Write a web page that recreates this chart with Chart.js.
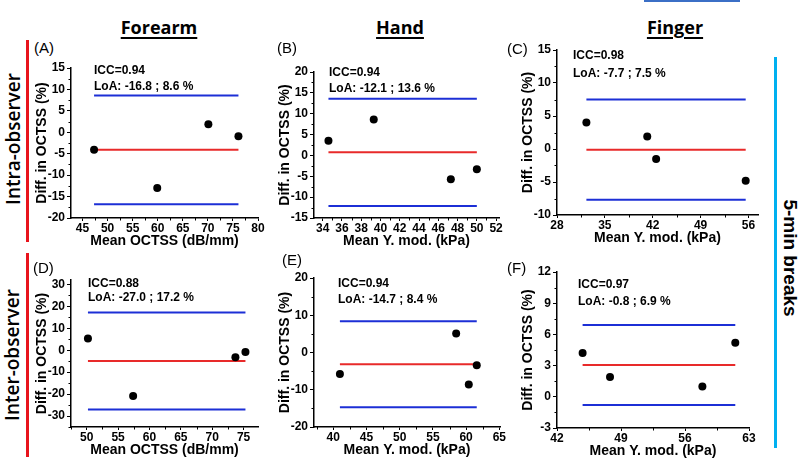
<!DOCTYPE html>
<html>
<head>
<meta charset="utf-8">
<script src="https://cdn.jsdelivr.net/npm/chart.js@4"></script>
<style>
  body { margin: 0; width: 800px; height: 463px; background: #fff; position: relative; overflow: hidden;
         font-family: "Liberation Sans", Arial, sans-serif; }
  canvas { position: absolute; }
  .t { position: absolute; white-space: nowrap; color: #000; line-height: 1; }
  .col { font-family: "Open Sans", sans-serif; font-weight: 700; font-size: 18px;
         text-decoration: underline; text-decoration-thickness: 2px; text-underline-offset: 3px;
         transform: translate(-50%, -50%); }
  .row { font-family: "Open Sans", sans-serif; font-weight: 600; font-size: 19px;
         transform: translate(-50%, -50%) rotate(-90deg); }
  .brk { font-weight: 700; font-size: 19px; transform: translate(-50%, -50%) rotate(90deg); }
  .lab { font-size: 15px; transform: translateY(-50%); }
  .icc { font-size: 12px; font-weight: 700; transform: translateY(-50%); }
  .bar { position: absolute; }
</style>
</head>
<body>

<div class="bar" style="left:644px;top:0;width:96px;height:2px;background:#3b6fc6"></div>
<div class="bar" style="left:26px;top:40px;width:3px;height:202px;background:#e8141c"></div>
<div class="bar" style="left:26px;top:253px;width:3px;height:204px;background:#e8141c"></div>
<div class="bar" style="left:774px;top:57px;width:3px;height:391px;background:#00b0f0"></div>

<div class="t col" style="left:159px;top:27px">Forearm</div>
<div class="t col" style="left:400px;top:27px">Hand</div>
<div class="t col" style="left:675px;top:27px">Finger</div>
<div class="t row" style="left:13px;top:139px">Intra-observer</div>
<div class="t row" style="left:12px;top:355px">Inter-observer</div>
<div class="t brk" style="left:790px;top:258px">5-min breaks</div>

<div id="panels"></div>

<script>
// ---- data ----
const panelLetters = ["(A)", "(B)", "(C)", "(D)", "(E)", "(F)"];
const iccText = ["ICC=0.94", "ICC=0.94", "ICC=0.98", "ICC=0.88", "ICC=0.94", "ICC=0.97"];
const loaText = ["LoA: -16.8 ; 8.6 %", "LoA: -12.1 ; 13.6 %", "LoA: -7.7 ; 7.5 %",
                 "LoA: -27.0 ; 17.2 %", "LoA: -14.7 ; 8.4 %", "LoA: -0.8 ; 6.9 %"];
const xTitleOctss = "Mean OCTSS (dB/mm)";
const xTitleYmod = "Mean Y. mod. (kPa)";
const yTitle = "Diff. in OCTSS (%)";

// (A) forearm, intra
const meanA = [47.3, 59.9, 70.1, 76.1];
const diffA = [-4.1, -13.0, 1.9, -0.9];
const limitsA = [-16.8, 8.6];
const biasA = -4.1;
const xTicksA = [45, 50, 55, 60, 65, 70, 75, 80];
const yTicksA = [-20, -15, -10, -5, 0, 5, 10, 15];

// (B) hand, intra
const meanB = [34.6, 39.3, 47.3, 50.0];
const diffB = [3.5, 8.6, -5.7, -3.3];
const limitsB = [-12.1, 13.6];
const biasB = 0.75;
const xTicksB = [34, 36, 38, 40, 42, 44, 46, 48, 50, 52];
const yTicksB = [-15, -10, -5, 0, 5, 10, 15, 20];

// (C) finger, intra
const meanC = [32.3, 41.2, 42.5, 55.6];
const diffC = [4.0, 1.9, -1.5, -4.8];
const limitsC = [-7.7, 7.5];
const biasC = -0.1;
const xTicksC = [28, 35, 42, 49, 56];
const yTicksC = [-10, -5, 0, 5, 10, 15];

// (D) forearm, inter
const meanD = [50.2, 57.4, 73.7, 75.3];
const diffD = [5.3, -20.9, -3.2, -0.8];
const limitsD = [-27.0, 17.2];
const biasD = -4.9;
const xTicksD = [50, 55, 60, 65, 70, 75];
const yTicksD = [-30, -20, -10, 0, 10, 20, 30];

// (E) hand, inter
const meanE = [41.0, 58.5, 60.4, 61.6];
const diffE = [-5.8, 5.1, -8.6, -3.4];
const limitsE = [-14.7, 8.4];
const biasE = -3.15;
const xTicksE = [40, 45, 50, 55, 60, 65];
const yTicksE = [-20, -10, 0, 10, 20];

// (F) finger, inter
const meanF = [44.8, 47.8, 57.9, 61.5];
const diffF = [4.2, 1.9, 1.0, 5.2];
const limitsF = [-0.8, 6.9];
const biasF = 3.05;
const xTicksF = [42, 49, 56, 63];
const yTicksF = [-3, 0, 3, 6, 9, 12];

// ---- layout ----
Chart.defaults.font.family = '"Liberation Sans", Arial, sans-serif';
Chart.defaults.color = "#000";
Chart.defaults.animation = false;

const Y_W = 39, X_H = 32, PAD_T = 10, PAD_R = 14;

const panels = [
  { mean: meanA, diff: diffA, lim: limitsA, bias: biasA, xt: xTicksA, yt: yTicksA, xr: [42.7, 80], yr: [-20, 15],
    area: [71, 68, 258, 218], xTitle: xTitleOctss, letter: [34, 47], icc: [94, 70, 86] },
  { mean: meanB, diff: diffB, lim: limitsB, bias: biasB, xt: xTicksB, yt: yTicksB, xr: [33.1, 52.3], yr: [-15, 20],
    area: [314, 72, 499, 218], xTitle: xTitleYmod, letter: [277, 47], icc: [329, 72, 88] },
  { mean: meanC, diff: diffC, lim: limitsC, bias: biasC, xt: xTicksC, yt: yTicksC, xr: [28, 57.4], yr: [-10, 15],
    area: [557, 50, 758, 215], xTitle: xTitleYmod, letter: [507, 48], icc: [573, 55, 73] },
  { mean: meanD, diff: diffD, lim: limitsD, bias: biasD, xt: xTicksD, yt: yTicksD, xr: [47.5, 77.3], yr: [-35, 32],
    area: [71, 280, 258, 427], xTitle: xTitleOctss, letter: [33, 267], icc: [88, 283, 297] },
  { mean: meanE, diff: diffE, lim: limitsE, bias: biasE, xt: xTicksE, yt: yTicksE, xr: [37.1, 65.1], yr: [-20, 20],
    area: [314, 278, 500, 427], xTitle: xTitleYmod, letter: [282, 259], icc: [338, 283, 299] },
  { mean: meanF, diff: diffF, lim: limitsF, bias: biasF, xt: xTicksF, yt: yTicksF, xr: [42, 63], yr: [-3, 12],
    area: [557, 272, 749, 428], xTitle: xTitleYmod, letter: [507, 267], icc: [578, 284, 301] },
];

// minor ticks half way between the labelled ones
function minors(major, range) {
  const step = major[1] - major[0];
  const out = [];
  for (let v = major[0] - step / 2; v <= range[1] + 1e-9; v += step) {
    if (v >= range[0] - 1e-9) out.push(v);
  }
  return out;
}

const minorTicks = {
  id: "minorTicks",
  afterDraw(chart, args, opts) {
    const { ctx } = chart;
    const xs = chart.scales.x, ys = chart.scales.y;
    ctx.save();
    ctx.strokeStyle = "#000";
    ctx.lineWidth = 1;
    for (const v of opts.x) {
      const p = Math.round(xs.getPixelForValue(v)) + 0.5;
      ctx.beginPath(); ctx.moveTo(p, xs.top); ctx.lineTo(p, xs.top + 2.5); ctx.stroke();
    }
    for (const v of opts.y) {
      const p = Math.round(ys.getPixelForValue(v)) + 0.5;
      ctx.beginPath(); ctx.moveTo(ys.right, p); ctx.lineTo(ys.right - 2.5, p); ctx.stroke();
    }
    ctx.restore();
  }
};

function axis(ticks, range, title, isX) {
  return {
    type: "linear",
    min: range[0],
    max: range[1],
    afterBuildTicks: (s) => { s.ticks = ticks.map((v) => ({ value: v })); },
    afterFit: (s) => { if (isX) s.height = X_H; else s.width = Y_W; },
    grid: { drawOnChartArea: false, drawTicks: true, tickLength: isX ? 3 : 4, color: "#000", tickWidth: 1 },
    border: { display: true, color: "#000", width: 1.5 },
    ticks: { color: "#000", font: { size: 12, weight: "bold" }, padding: isX ? 0 : 2, maxRotation: 0, autoSkip: false },
    title: { display: true, text: title, color: "#000", font: { size: 14, weight: "bold" },
             padding: isX ? { top: 0, bottom: 0 } : { top: 2, bottom: 0 } },
  };
}

const host = document.getElementById("panels");

panels.forEach((p, i) => {
  const [L, T, R, B] = p.area;
  const left = L - Y_W, top = T - PAD_T;
  const w = R + PAD_R - left, h = B + X_H - top;

  const cv = document.createElement("canvas");
  cv.width = w; cv.height = h;
  cv.style.left = left + "px"; cv.style.top = top + "px";
  cv.style.width = w + "px"; cv.style.height = h + "px";
  host.appendChild(cv);

  const lab = document.createElement("div");
  lab.className = "t lab";
  lab.style.left = p.letter[0] + "px"; lab.style.top = p.letter[1] + "px";
  lab.textContent = panelLetters[i];
  document.body.appendChild(lab);

  [iccText[i], loaText[i]].forEach((s, k) => {
    const d = document.createElement("div");
    d.className = "t icc";
    d.style.left = p.icc[0] + "px"; d.style.top = p.icc[1 + k] + "px";
    d.textContent = s;
    document.body.appendChild(d);
  });

  const x0 = Math.min(...p.mean), x1 = Math.max(...p.mean);
  const hline = (v, color) => ({
    type: "line",
    data: [{ x: x0, y: v }, { x: x1, y: v }],
    borderColor: color, borderWidth: 2, pointRadius: 0, order: 2,
  });

  new Chart(cv, {
    type: "scatter",
    data: {
      datasets: [
        hline(p.lim[1], "#1c2fd6"),
        hline(p.lim[0], "#1c2fd6"),
        hline(p.bias, "#e82a2a"),
        {
          type: "scatter",
          data: p.mean.map((m, k) => ({ x: m, y: p.diff[k] })),
          backgroundColor: "#000", borderWidth: 0, pointRadius: 4, order: 1,
        },
      ],
    },
    options: {
      responsive: false,
      layout: { padding: { top: PAD_T, right: PAD_R, left: 0, bottom: 0 } },
      plugins: {
        legend: { display: false },
        tooltip: { enabled: false },
        minorTicks: { x: minors(p.xt, p.xr), y: minors(p.yt, p.yr) },
      },
      scales: {
        x: axis(p.xt, p.xr, p.xTitle, true),
        y: axis(p.yt, p.yr, yTitle, false),
      },
    },
    plugins: [minorTicks],
  });
});
</script>
</body>
</html>
